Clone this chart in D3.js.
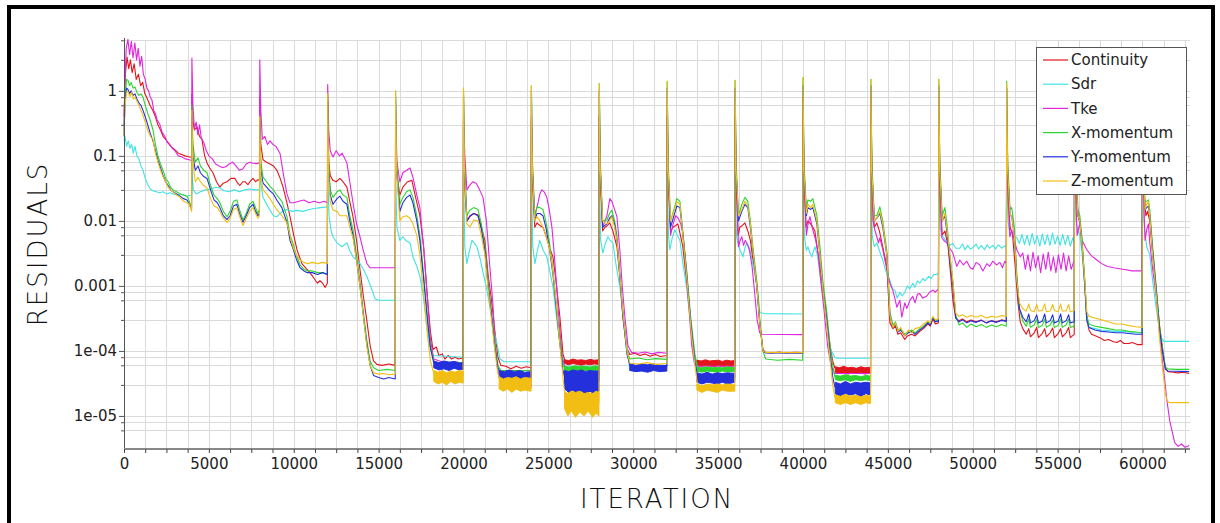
<!DOCTYPE html>
<html>
<head>
<meta charset="utf-8">
<script src="https://cdn.jsdelivr.net/npm/d3@7"></script>
<style>
  body { margin: 0; background: #fff; }
  svg { display: block; }
</style>
</head>
<body>
<svg id="chart" width="1220" height="523"></svg>
<script>
// residual history, [iteration, residual]
const continuity = [
  [0,0.4],[80,1.8],[180,3.3],[280,2.2],[380,3.0],[480,1.9],[600,2.6],[720,1.5],[850,1.8],[980,1.2],[1100,1.35],[1230,0.9],[1380,0.75],[1530,0.6],[1700,0.5],[1850,0.4],[2000,0.3],[2150,0.25],[2300,0.2],[2450,0.18],[2600,0.16],[2750,0.14],[2900,0.13],[3050,0.12],[3200,0.11],[3400,0.105],[3600,0.1],[3800,0.097],[3980,0.095],
  [4000,0.9],[4060,0.35],[4150,0.25],[4300,0.28],[4450,0.2],[4590,0.18],[4750,0.1],[4890,0.078],[5050,0.065],[5240,0.055],[5450,0.04],[5650,0.033],[5850,0.038],[6070,0.04],[6300,0.045],[6540,0.045],[6700,0.038],[6830,0.035],[7000,0.04],[7130,0.04],[7300,0.036],[7420,0.04],[7600,0.045],[7750,0.04],[7890,0.043],[7980,0.042],
  [8000,0.8],[8060,0.15],[8190,0.087],[8400,0.08],[8600,0.075],[8800,0.07],[9010,0.06],[9200,0.045],[9370,0.033],[9580,0.02],[9780,0.0116],[10000,0.006],[10190,0.0036],[10480,0.0022],[10700,0.0019],[10960,0.0016],[11200,0.0013],[11400,0.0011],[11540,0.0012],[11700,0.0011],[11850,0.00095],[11980,0.0011],
  [12000,0.5],[12060,0.08],[12150,0.05],[12310,0.042],[12500,0.04],[12720,0.045],[12900,0.04],[13130,0.033],[13300,0.02],[13490,0.0116],[13700,0.005],[13900,0.0018],[14100,7e-4],[14300,3e-4],[14500,1.2e-4],[14700,7e-5],[14900,6.2e-5],[15200,6e-5],[15600,6.3e-5],[15980,6e-5],
  [16000,0.3],[16080,0.05],[16250,0.025],[16430,0.033],[16700,0.04],[16960,0.042],[17150,0.025],[17430,0.012],[17650,0.004],[17850,8e-4],[18050,2e-4],[18200,1.05e-4],[18400,1.15e-4],[18550,8.5e-5],[18750,9e-5],[18900,7.5e-5],[19100,8.5e-5],[19300,7.5e-5],[19500,8e-5],[19700,7.5e-5],[19980,7.8e-5],
  [20000,0.3],[20080,0.03],[20200,0.01],[20380,0.0116],[20600,0.013],[20850,0.0124],[21050,0.008],[21260,0.005],[21450,0.0015],[21650,6e-4],[21850,2e-4],[22030,8e-5],[22200,6e-5],[22500,5.8e-5],[22800,5.3e-5],[23100,5.8e-5],[23400,5.4e-5],[23700,5.7e-5],[23980,5.5e-5],
  [24000,0.35],[24080,0.03],[24200,0.008],[24330,0.0093],[24500,0.0085],[24680,0.008],[24850,0.006],[25050,0.004],[25270,0.0028],[25450,0.0012],[25680,3.3e-4],[25860,9e-5],[26000,6.8e-5],[27980,6.8e-5],
  [28000,0.4],[28080,0.03],[28200,0.007],[28330,0.008],[28480,0.0085],[28620,0.0093],[28800,0.007],[29040,0.004],[29200,0.0015],[29390,3.3e-4],[29630,1.1e-4],[29800,8.8e-5],[30100,9.2e-5],[30400,8.5e-5],[30700,9e-5],[31000,8.3e-5],[31300,8.8e-5],[31600,8.2e-5],[31980,8.5e-5],
  [32000,0.4],[32080,0.03],[32200,0.007],[32340,0.008],[32500,0.0085],[32630,0.009],[32780,0.006],[32920,0.004],[33100,0.0015],[33340,3.9e-4],[33500,1.3e-4],[33630,7.5e-5],[33800,6.5e-5],[35980,6.5e-5],
  [36000,0.4],[36080,0.03],[36180,0.006],[36280,0.008],[36430,0.0085],[36580,0.0093],[36750,0.007],[36900,0.005],[37050,0.0025],[37280,0.001],[37460,2.5e-4],[37640,1.05e-4],[37800,9.5e-5],[38200,9.3e-5],[38600,9.6e-5],[39000,9.3e-5],[39500,9.5e-5],[39980,9.4e-5],
  [40000,0.45],[40080,0.03],[40180,0.008],[40290,0.01],[40450,0.009],[40580,0.008],[40700,0.007],[40900,0.003],[41170,9e-4],[41400,3e-4],[41580,1.3e-4],[41750,7e-5],[41880,5.5e-5],[43980,5e-5],
  [44000,0.4],[44080,0.03],[44200,0.008],[44350,0.0093],[44500,0.007],[44700,0.004],[44940,0.002],[45050,6e-4],[45120,2.7e-4],[45300,2.2e-4],[45450,2.4e-4],[45590,1.8e-4],[45750,1.9e-4],[46000,1.5e-4],[46150,1.7e-4],[46410,1.8e-4],[46600,1.7e-4],[46880,2e-4],[47100,2.2e-4],[47360,2.6e-4],[47500,2.4e-4],[47650,3.1e-4],[47800,2.6e-4],[47980,2.7e-4],
  [48000,0.4],[48080,0.03],[48200,0.006],[48360,0.007],[48550,0.004],[48700,0.0015],[48830,6e-4],[49000,3.2e-4],[49200,2.9e-4],[49400,3.1e-4],[49650,2.8e-4],[49900,3e-4],[50200,2.8e-4],[50500,3e-4],[50800,2.7e-4],[51100,2.9e-4],[51400,2.8e-4],[51700,3e-4],[51980,2.9e-4],
  [52000,0.35],[52060,0.03],[52200,0.008],[52350,0.006],[52500,0.002],[52650,6e-4],[52800,2.8e-4],[52950,2.2e-4],[53150,1.8e-4],[53300,2.2e-4],[53400,1.65e-4],[53620,1.9e-4],[53770,2.3e-4],[53870,1.6e-4],[54090,1.85e-4],[54240,2.2e-4],[54340,1.65e-4],[54560,1.9e-4],[54710,2.25e-4],[54810,1.6e-4],[55030,1.85e-4],[55180,2.2e-4],[55280,1.65e-4],[55500,1.9e-4],[55650,2.3e-4],[55750,1.6e-4],[55980,1.8e-4],
  [56000,0.3],[56080,0.03],[56200,0.012],[56310,0.0093],[56450,0.004],[56600,0.0012],[56720,3e-4],[56850,2.1e-4],[57000,1.8e-4],[57250,1.7e-4],[57490,1.6e-4],[57750,1.45e-4],[58000,1.5e-4],[58250,1.4e-4],[58500,1.35e-4],[58700,1.45e-4],[58900,1.3e-4],[59200,1.3e-4],[59400,1.35e-4],[59700,1.25e-4],[59980,1.25e-4],
  [60000,0.4],[60080,0.03],[60200,0.012],[60300,0.014],[60430,0.01],[60600,0.003],[60840,7e-4],[61000,2.5e-4],[61200,1e-4],[61350,5.5e-5],[61500,4.8e-5],[61800,4.7e-5],[62100,4.6e-5],[62400,4.7e-5],[62750,4.5e-5]
];

const sdr = [
  [0,0.17],[60,0.2],[150,0.14],[250,0.17],[350,0.13],[450,0.15],[550,0.11],[650,0.14],[760,0.1],[880,0.09],[1000,0.07],[1120,0.06],[1250,0.045],[1400,0.036],[1550,0.031],[1700,0.029],[1900,0.028],[2100,0.027],[2300,0.028],[2500,0.026],[2700,0.027],[2900,0.026],[3100,0.025],[3300,0.026],[3500,0.025],[3700,0.024],[3980,0.025],
  [4000,0.06],[4080,0.03],[4250,0.026],[4500,0.028],[4800,0.03],[5100,0.031],[5400,0.033],[5650,0.032],[5900,0.029],[6200,0.028],[6500,0.03],[6800,0.028],[7100,0.03],[7400,0.031],[7700,0.03],[7980,0.03],
  [8000,0.07],[8080,0.035],[8190,0.023],[8400,0.018],[8600,0.0147],[8800,0.012],[9010,0.0116],[9200,0.013],[9400,0.0145],[9600,0.015],[9900,0.014],[10200,0.0145],[10540,0.014],[10900,0.015],[11200,0.0155],[11600,0.016],[11980,0.0164],
  [12000,0.05],[12080,0.012],[12200,0.007],[12310,0.0057],[12550,0.0046],[12840,0.004],[13130,0.0046],[13300,0.0035],[13490,0.0028],[13700,0.0025],[13900,0.0022],[14100,0.0018],[14310,0.0014],[14610,8.6e-4],[14800,6.3e-4],[15000,6e-4],[15500,6e-4],[15980,6e-4],
  [16000,0.05],[16080,0.008],[16250,0.005],[16430,0.0057],[16600,0.005],[16850,0.0046],[17020,0.0028],[17250,0.002],[17430,0.0014],[17600,8e-4],[17800,3e-4],[18000,1.2e-4],[18200,8.5e-5],[19980,8e-5],
  [20000,0.05],[20080,0.004],[20200,0.0022],[20350,0.0035],[20500,0.005],[20650,0.0045],[20790,0.004],[21000,0.0025],[21200,0.0014],[21380,8.6e-4],[21600,4e-4],[21800,2e-4],[21970,1.3e-4],[22150,7.5e-5],[22400,6.8e-5],[23980,6.8e-5],
  [24000,0.05],[24080,0.004],[24210,0.0022],[24350,0.0035],[24500,0.005],[24700,0.0035],[24910,0.0028],[25100,0.0016],[25270,9.7e-4],[25500,3e-4],[25680,1.3e-4],[25860,6.5e-5],[26000,5.8e-5],[27980,5.8e-5],
  [28000,0.05],[28080,0.005],[28210,0.0032],[28350,0.0045],[28510,0.0057],[28650,0.005],[28800,0.0046],[29000,0.002],[29210,9.7e-4],[29420,3.5e-4],[29630,1.3e-4],[29800,5e-5],[30200,5.3e-5],[30800,5.6e-5],[31400,5.9e-5],[31980,6e-5],
  [32000,0.05],[32080,0.006],[32160,0.0036],[32300,0.0055],[32450,0.0073],[32600,0.006],[32750,0.005],[32950,0.002],[33160,9e-4],[33350,3e-4],[33510,1.2e-4],[33750,5.5e-5],[34000,5.1e-5],[35980,5.1e-5],
  [36000,0.05],[36080,0.006],[36160,0.0046],[36300,0.0035],[36460,0.0028],[36600,0.004],[36700,0.0046],[36850,0.0038],[37050,0.0022],[37280,0.0011],[37460,3.9e-4],[37700,3.75e-4],[39980,3.7e-4],
  [40000,0.05],[40080,0.006],[40200,0.0035],[40290,0.004],[40420,0.0032],[40520,0.0028],[40700,0.004],[40850,0.003],[41000,0.0015],[41170,7e-4],[41380,3e-4],[41580,1.1e-4],[41880,8e-5],[42000,7.7e-5],[43980,7.7e-5],
  [44000,0.05],[44080,0.006],[44200,0.004],[44350,0.0046],[44500,0.0035],[44700,0.0025],[44940,0.0015],[45120,0.0012],[45290,9e-4],[45410,8.6e-4],[45550,6.5e-4],[45710,8e-4],[45850,7e-4],[46000,8e-4],[46150,0.001],[46300,9e-4],[46470,0.0011],[46590,0.00095],[46750,0.0012],[46880,0.0011],[47060,0.0013],[47200,0.0012],[47400,0.0014],[47550,0.0013],[47700,0.0015],[47890,0.0015],[47980,0.0016],
  [48000,0.06],[48080,0.008],[48180,0.006],[48300,0.0055],[48470,0.0047],[48650,0.0042],[48830,0.0045],[49000,0.0038],[49240,0.0038],[49400,0.0044],[49550,0.0036],[49700,0.0042],[49850,0.0037],[50010,0.0039],[50200,0.0044],[50350,0.0037],[50500,0.0042],[50700,0.0036],[50850,0.0043],[51000,0.0038],[51180,0.0042],[51350,0.0037],[51500,0.0043],[51700,0.0038],[51890,0.0041],[51980,0.004],
  [52000,0.06],[52080,0.01],[52190,0.006],[52300,0.0067],[52450,0.0058],[52600,0.0055],[52750,0.0045],[52900,0.0062],[53050,0.0043],[53200,0.006],[53350,0.0042],[53500,0.0064],[53650,0.0044],[53800,0.0059],[53950,0.0041],[54100,0.0063],[54250,0.0043],[54400,0.0061],[54550,0.0042],[54700,0.0065],[54850,0.0044],[55000,0.0058],[55150,0.0042],[55300,0.0062],[55450,0.0043],[55600,0.006],[55750,0.0041],[55900,0.0055],[55980,0.0045],
  [56000,0.06],[56080,0.01],[56200,0.007],[56310,0.006],[56450,0.003],[56600,0.001],[56720,3e-4],[56850,2.3e-4],[57200,2.2e-4],[57600,2.1e-4],[58000,2.05e-4],[58400,2e-4],[58800,2e-4],[59200,1.95e-4],[59600,1.9e-4],[59980,1.9e-4],
  [60000,0.06],[60080,0.01],[60250,0.004],[60430,0.003],[60600,0.0012],[60840,4e-4],[61050,1.7e-4],[61250,1.4e-4],[62750,1.4e-4]
];

const tke = [
  [0,0.3],[60,1.5],[130,4.5],[230,6.2],[330,3.6],[430,5.8],[530,3.2],[640,5.5],[740,3.0],[840,4.5],[940,2.4],[1040,3.4],[1140,1.8],[1250,1.5],[1350,1.1],[1450,1.0],[1550,0.8],[1650,0.72],[1750,0.5],[1850,0.45],[1950,0.36],[2100,0.31],[2250,0.23],[2400,0.2],[2550,0.16],[2700,0.15],[2850,0.13],[3000,0.12],[3200,0.1],[3400,0.097],[3600,0.09],[3800,0.088],[3980,0.085],
  [4000,3.2],[4060,0.6],[4150,0.26],[4250,0.33],[4350,0.21],[4450,0.3],[4550,0.19],[4700,0.16],[4850,0.12],[5000,0.1],[5200,0.09],[5400,0.075],[5600,0.07],[5800,0.066],[6000,0.068],[6200,0.075],[6400,0.08],[6600,0.07],[6800,0.06],[7000,0.063],[7200,0.075],[7400,0.08],[7600,0.077],[7800,0.076],[7980,0.078],
  [8000,3.0],[8060,0.5],[8150,0.18],[8300,0.2],[8450,0.15],[8600,0.17],[8770,0.15],[8950,0.14],[9190,0.11],[9400,0.05],[9600,0.026],[9780,0.019],[10000,0.019],[10300,0.02],[10600,0.021],[10900,0.019],[11200,0.02],[11500,0.019],[11800,0.02],[11980,0.019],
  [12000,1.25],[12060,0.25],[12150,0.12],[12310,0.096],[12500,0.12],[12700,0.1],[12850,0.11],[13130,0.078],[13300,0.04],[13490,0.019],[13700,0.009],[13900,0.0057],[14100,0.0035],[14310,0.0022],[14500,0.0019],[15000,0.0019],[15500,0.0019],[15980,0.0019],
  [16000,0.5],[16080,0.08],[16250,0.04],[16430,0.055],[16650,0.06],[16850,0.065],[17020,0.047],[17250,0.025],[17430,0.016],[17650,0.004],[17850,8e-4],[18050,1.5e-4],[18250,7.5e-5],[18600,7e-5],[19000,6.5e-5],[19500,6.8e-5],[19980,6.5e-5],
  [20000,0.4],[20080,0.1],[20200,0.03],[20350,0.035],[20550,0.04],[20750,0.038],[20950,0.03],[21150,0.023],[21350,0.01],[21550,0.002],[21730,5.4e-4],[21850,1.5e-4],[21970,6e-5],[22100,4e-5],[22300,3.2e-5],[22600,2.8e-5],[22900,2.6e-5],[23200,2.9e-5],[23500,2.6e-5],[23800,2.8e-5],[23980,2.7e-5],
  [24000,0.4],[24080,0.05],[24200,0.012],[24330,0.016],[24500,0.026],[24620,0.03],[24750,0.028],[24910,0.023],[25050,0.015],[25210,0.008],[25350,0.003],[25500,8.6e-4],[25650,2.5e-4],[25800,9e-5],[26000,5e-5],[26500,4.5e-5],[27000,4.2e-5],[27500,4.4e-5],[27980,4.3e-5],
  [28000,0.4],[28080,0.05],[28200,0.008],[28450,0.012],[28620,0.022],[28740,0.02],[28900,0.015],[29040,0.0116],[29210,0.0036],[29350,0.001],[29510,3.3e-4],[29690,1.2e-4],[29900,9.5e-5],[30300,9.2e-5],[30700,9.6e-5],[31100,9e-5],[31500,9.5e-5],[31980,9.2e-5],
  [32000,0.4],[32080,0.04],[32200,0.006],[32350,0.009],[32500,0.012],[32650,0.011],[32800,0.009],[32920,0.0065],[33050,0.003],[33160,0.0011],[33300,4e-4],[33450,1.2e-4],[33600,6.5e-5],[33800,5.8e-5],[35980,5.8e-5],
  [36000,0.4],[36080,0.04],[36200,0.004],[36300,0.005],[36400,0.0057],[36500,0.0042],[36600,0.005],[36700,0.0045],[36850,0.0035],[37000,0.002],[37150,8e-4],[37300,3e-4],[37450,1.9e-4],[37600,1.8e-4],[39980,1.78e-4],
  [40000,0.4],[40080,0.04],[40200,0.006],[40300,0.009],[40410,0.0116],[40580,0.0073],[40750,0.005],[40900,0.003],[41050,0.0012],[41250,4e-4],[41450,1.2e-4],[41650,6e-5],[41850,4.5e-5],[43980,4.5e-5],
  [44000,0.4],[44060,0.04],[44120,0.0103],[44230,0.0073],[44350,0.0057],[44450,0.0046],[44530,0.0055],[44700,0.0036],[44940,0.0018],[45120,0.0011],[45290,8.6e-4],[45410,6.5e-4],[45530,4.7e-4],[45710,6e-4],[45820,3.3e-4],[46000,5.5e-4],[46120,4.5e-4],[46300,6e-4],[46470,6.9e-4],[46600,5.5e-4],[46750,7.5e-4],[46880,7.6e-4],[47060,6.5e-4],[47300,7e-4],[47450,8e-4],[47650,8.6e-4],[47800,8e-4],[47980,9e-4],
  [48000,0.4],[48060,0.03],[48180,0.0055],[48300,0.005],[48470,0.0046],[48650,0.0038],[48830,0.0032],[49060,0.002],[49240,0.0025],[49450,0.0021],[49650,0.0024],[49850,0.0019],[50010,0.0018],[50200,0.0023],[50420,0.0021],[50600,0.0017],[50830,0.0022],[51000,0.002],[51180,0.0024],[51400,0.0021],[51600,0.0023],[51750,0.0019],[51890,0.0024],[51980,0.0022],
  [52000,0.4],[52060,0.03],[52190,0.0057],[52300,0.0073],[52450,0.005],[52600,0.0036],[52800,0.0028],[52950,0.0032],[53100,0.0018],[53250,0.003],[53400,0.0017],[53550,0.0033],[53700,0.0019],[53850,0.0029],[54000,0.0016],[54150,0.0031],[54300,0.0018],[54450,0.0033],[54600,0.0017],[54750,0.0028],[54900,0.0016],[55050,0.003],[55200,0.0018],[55350,0.0032],[55500,0.0017],[55650,0.0029],[55800,0.0018],[55980,0.0025],
  [56000,0.4],[56060,0.03],[56150,0.006],[56310,0.0093],[56450,0.005],[56720,0.0036],[57000,0.0029],[57310,0.0025],[57600,0.0022],[57900,0.002],[58300,0.0019],[58840,0.0018],[59400,0.0017],[59960,0.0017],
  [60000,0.4],[60060,0.03],[60150,0.005],[60250,0.0073],[60350,0.009],[60430,0.0046],[60600,0.0018],[60840,6e-4],[61000,2e-4],[61200,6e-5],[61310,3.6e-5],[61430,1.8e-5],[61620,8e-6],[61900,3.9e-6],[62100,3.4e-6],[62300,3.7e-6],[62500,3.3e-6],[62750,3.5e-6]
];

const xMomentum = [
  [0,0.25],[60,0.8],[150,1.5],[236,1.45],[330,1.2],[420,1.35],[530,1.1],[648,1.15],[760,0.95],[880,0.85],[1000,0.9],[1119,0.8],[1250,0.6],[1400,0.45],[1550,0.35],[1708,0.25],[1850,0.15],[2000,0.1],[2150,0.075],[2297,0.06],[2450,0.045],[2600,0.04],[2750,0.033],[2886,0.03],[3100,0.028],[3300,0.026],[3500,0.025],[3711,0.024],[3850,0.02],[3980,0.016],
  [4000,0.6],[4060,0.15],[4200,0.08],[4360,0.093],[4500,0.07],[4700,0.06],[4890,0.055],[5100,0.035],[5300,0.025],[5500,0.022],[5650,0.019],[5850,0.014],[6070,0.0116],[6250,0.014],[6450,0.02],[6650,0.021],[6800,0.015],[7010,0.0103],[7200,0.013],[7400,0.018],[7600,0.02],[7750,0.016],[7890,0.013],[7980,0.015],
  [8000,0.4],[8060,0.08],[8190,0.047],[8400,0.04],[8600,0.034],[8800,0.03],[9000,0.025],[9300,0.02],[9600,0.0116],[9780,0.006],[9950,0.0046],[10150,0.003],[10370,0.0021],[10600,0.0018],[10780,0.0017],[11100,0.0017],[11400,0.0016],[11700,0.0016],[11980,0.0015],
  [12000,0.9],[12060,0.08],[12150,0.03],[12310,0.023],[12550,0.028],[12720,0.03],[12900,0.025],[13130,0.023],[13300,0.012],[13490,0.0073],[13700,0.003],[13900,0.0012],[14100,4e-4],[14300,1.5e-4],[14500,7e-5],[14700,5.5e-5],[15000,5e-5],[15500,5.2e-5],[15980,5e-5],
  [16000,1.0],[16060,0.08],[16250,0.018],[16430,0.023],[16650,0.028],[16850,0.03],[17020,0.023],[17250,0.012],[17430,0.006],[17650,0.0015],[17850,4e-4],[18050,1.2e-4],[18250,7e-5],[18500,6.5e-5],[19000,6.8e-5],[19500,6.5e-5],[19980,6.7e-5],
  [20000,1.1],[20060,0.08],[20200,0.012],[20380,0.0147],[20600,0.016],[20850,0.015],[21050,0.009],[21260,0.004],[21450,0.0012],[21650,4e-4],[21850,1.3e-4],[22030,6e-5],[22200,5e-5],[23980,5e-5],
  [24000,1.2],[24060,0.08],[24200,0.012],[24330,0.0164],[24500,0.016],[24680,0.015],[24850,0.01],[25050,0.005],[25270,0.0018],[25450,6e-4],[25650,1.8e-4],[25860,6e-5],[26000,5.3e-5],[27980,5.3e-5],
  [28000,1.3],[28060,0.08],[28200,0.01],[28450,0.0103],[28600,0.013],[28740,0.0147],[28900,0.01],[29040,0.006],[29200,0.0018],[29390,4e-4],[29630,1e-4],[29800,7.5e-5],[30300,7.8e-5],[30800,7.3e-5],[31300,7.6e-5],[31980,7.4e-5],
  [32000,1.4],[32060,0.08],[32200,0.01],[32400,0.015],[32570,0.022],[32750,0.02],[32900,0.008],[33160,0.0016],[33400,3e-4],[33630,9e-5],[33800,5.3e-5],[35980,5.3e-5],
  [36000,1.45],[36060,0.08],[36200,0.012],[36400,0.018],[36580,0.023],[36750,0.02],[36900,0.01],[37050,0.004],[37280,0.0012],[37460,3e-4],[37640,1e-4],[37800,7.5e-5],[38500,7.2e-5],[39200,7.4e-5],[39980,7.2e-5],
  [40000,1.6],[40060,0.08],[40200,0.015],[40290,0.021],[40450,0.02],[40580,0.022],[40820,0.012],[41000,0.004],[41170,0.0012],[41400,4e-4],[41580,1.3e-4],[41750,6e-5],[41880,4e-5],[43980,3.9e-5],
  [44000,1.5],[44060,0.08],[44200,0.012],[44350,0.012],[44530,0.0164],[44700,0.01],[44940,0.0035],[45050,0.001],[45120,4e-4],[45300,2.5e-4],[45450,2.8e-4],[45590,2.1e-4],[45750,2.2e-4],[46000,1.8e-4],[46200,2e-4],[46410,2.1e-4],[46600,1.9e-4],[46880,2.2e-4],[47100,2.4e-4],[47360,2.8e-4],[47500,2.6e-4],[47650,3.3e-4],[47800,2.9e-4],[47980,3e-4],
  [48000,1.5],[48060,0.08],[48200,0.012],[48360,0.016],[48500,0.008],[48650,0.003],[48830,0.0012],[49000,3.5e-4],[49200,2.5e-4],[49400,2.7e-4],[49650,2.3e-4],[49900,2.6e-4],[50200,2.35e-4],[50500,2.55e-4],[50800,2.3e-4],[51100,2.5e-4],[51400,2.35e-4],[51700,2.55e-4],[51980,2.4e-4],
  [52000,1.4],[52060,0.08],[52200,0.015],[52300,0.016],[52450,0.008],[52600,0.0015],[52750,4.5e-4],[52950,2.9e-4],[53150,2.4e-4],[53300,3.1e-4],[53400,2.3e-4],[53620,2.5e-4],[53770,3.1e-4],[53870,2.3e-4],[54090,2.45e-4],[54240,3.1e-4],[54340,2.3e-4],[54560,2.5e-4],[54710,3e-4],[54810,2.3e-4],[55030,2.45e-4],[55180,3.1e-4],[55280,2.3e-4],[55500,2.5e-4],[55650,3.1e-4],[55750,2.3e-4],[55980,2.4e-4],
  [56000,1.4],[56060,0.08],[56200,0.015],[56310,0.012],[56450,0.005],[56600,0.0012],[56720,3.5e-4],[56850,2.6e-4],[57200,2.4e-4],[57600,2.3e-4],[58000,2.2e-4],[58400,2.1e-4],[58800,2.1e-4],[59200,2e-4],[59600,1.95e-4],[59980,1.9e-4],
  [60000,1.5],[60060,0.08],[60150,0.02],[60250,0.02],[60350,0.021],[60430,0.015],[60600,0.004],[60840,8e-4],[61000,2.5e-4],[61200,1e-4],[61350,5.6e-5],[61500,5.3e-5],[62000,5.2e-5],[62750,5.2e-5]
];

const yMomentum = [
  [0,0.2],[60,0.7],[150,1.1],[236,1.05],[330,0.9],[420,1.0],[530,0.85],[648,0.9],[760,0.75],[880,0.65],[1000,0.6],[1119,0.5],[1250,0.4],[1400,0.3],[1550,0.22],[1708,0.17],[1850,0.12],[2000,0.085],[2150,0.065],[2297,0.05],[2450,0.04],[2600,0.035],[2750,0.03],[2886,0.028],[3100,0.026],[3300,0.024],[3500,0.022],[3711,0.021],[3850,0.018],[3980,0.015],
  [4000,0.4],[4060,0.1],[4200,0.06],[4360,0.07],[4500,0.055],[4700,0.048],[4890,0.045],[5100,0.03],[5300,0.021],[5500,0.019],[5650,0.016],[5850,0.012],[6070,0.0105],[6250,0.012],[6450,0.017],[6650,0.018],[6800,0.013],[7010,0.0095],[7200,0.012],[7400,0.016],[7600,0.018],[7750,0.014],[7890,0.012],[7980,0.013],
  [8000,0.3],[8060,0.06],[8190,0.038],[8400,0.033],[8600,0.029],[8800,0.026],[9000,0.021],[9300,0.016],[9600,0.0095],[9780,0.005],[9950,0.0038],[10150,0.0026],[10370,0.0019],[10600,0.0017],[10780,0.0016],[11100,0.0016],[11400,0.0015],[11700,0.0016],[11980,0.0015],
  [12000,0.7],[12060,0.06],[12150,0.025],[12310,0.018],[12550,0.022],[12720,0.024],[12900,0.02],[13130,0.018],[13300,0.01],[13490,0.006],[13700,0.0025],[13900,0.001],[14100,3.5e-4],[14300,1.3e-4],[14500,6e-5],[14700,4.2e-5],[15000,3.9e-5],[15300,3.7e-5],[15600,3.9e-5],[15980,3.7e-5],
  [16000,0.8],[16060,0.06],[16250,0.014],[16430,0.019],[16650,0.023],[16850,0.025],[17020,0.019],[17250,0.01],[17430,0.005],[17650,0.0013],[17850,3.5e-4],[18050,1.1e-4],[18250,6.5e-5],[19980,6e-5],
  [20000,0.9],[20060,0.06],[20200,0.01],[20380,0.012],[20600,0.013],[20850,0.012],[21050,0.0075],[21260,0.0035],[21450,0.001],[21650,3.5e-4],[21850,1.1e-4],[22030,5.5e-5],[22200,4.5e-5],[23980,4.3e-5],
  [24000,1.0],[24060,0.06],[24200,0.01],[24330,0.013],[24500,0.013],[24680,0.012],[24850,0.008],[25050,0.004],[25270,0.0015],[25450,5e-4],[25650,1.5e-4],[25860,5e-5],[26000,3.5e-5],[27980,3.5e-5],
  [28000,1.0],[28060,0.06],[28200,0.008],[28450,0.009],[28600,0.011],[28740,0.012],[28900,0.009],[29040,0.005],[29200,0.0015],[29390,3.5e-4],[29630,9e-5],[29800,6e-5],[31980,5.8e-5],
  [32000,1.1],[32060,0.06],[32200,0.008],[32400,0.012],[32570,0.017],[32750,0.016],[32900,0.007],[33160,0.0014],[33400,2.5e-4],[33630,7e-5],[33800,4e-5],[35980,3.9e-5],
  [36000,1.1],[36060,0.06],[36200,0.01],[36400,0.014],[36580,0.018],[36750,0.016],[36900,0.008],[37050,0.0033],[37280,0.001],[37460,2.6e-4],[37640,1e-4],[37800,9.3e-5],[39980,9.2e-5],
  [40000,1.2],[40060,0.06],[40200,0.012],[40290,0.016],[40450,0.015],[40580,0.016],[40820,0.009],[41000,0.003],[41170,9e-4],[41400,3e-4],[41580,1e-4],[41750,4e-5],[41880,2.8e-5],[43980,2.7e-5],
  [44000,1.2],[44060,0.06],[44200,0.01],[44350,0.011],[44530,0.013],[44700,0.008],[44940,0.003],[45050,8e-4],[45120,3.5e-4],[45300,2.3e-4],[45450,2.6e-4],[45590,1.95e-4],[45750,2.1e-4],[46000,1.7e-4],[46200,1.9e-4],[46410,2e-4],[46600,1.8e-4],[46880,2.1e-4],[47100,2.3e-4],[47360,2.7e-4],[47500,2.5e-4],[47650,3.2e-4],[47800,2.8e-4],[47980,2.9e-4],
  [48000,1.2],[48060,0.06],[48200,0.01],[48360,0.012],[48500,0.006],[48650,0.0025],[48830,0.001],[49000,3.2e-4],[49200,2.8e-4],[49400,3e-4],[49650,2.7e-4],[49900,2.9e-4],[50200,2.75e-4],[50500,2.95e-4],[50800,2.7e-4],[51100,2.9e-4],[51400,2.75e-4],[51700,2.95e-4],[51980,2.85e-4],
  [52000,1.1],[52060,0.06],[52200,0.012],[52300,0.012],[52450,0.006],[52600,0.0012],[52750,4.5e-4],[52950,3.3e-4],[53150,2.8e-4],[53300,3.7e-4],[53400,2.7e-4],[53620,2.9e-4],[53770,3.6e-4],[53870,2.7e-4],[54090,2.85e-4],[54240,3.7e-4],[54340,2.7e-4],[54560,2.9e-4],[54710,3.6e-4],[54810,2.7e-4],[55030,2.85e-4],[55180,3.7e-4],[55280,2.7e-4],[55500,2.9e-4],[55650,3.6e-4],[55750,2.7e-4],[55980,2.8e-4],
  [56000,1.1],[56060,0.06],[56200,0.012],[56310,0.01],[56450,0.004],[56600,0.001],[56720,3e-4],[56850,2.3e-4],[57200,2.1e-4],[57600,2e-4],[58000,1.95e-4],[58400,1.9e-4],[58800,1.9e-4],[59200,1.85e-4],[59600,1.8e-4],[59980,1.8e-4],
  [60000,1.2],[60060,0.06],[60150,0.015],[60250,0.016],[60350,0.017],[60430,0.012],[60600,0.0035],[60840,7e-4],[61000,2.2e-4],[61200,9e-5],[61350,5.2e-5],[61500,4.9e-5],[62750,4.8e-5]
];

const zMomentum = [
  [0,0.2],[60,0.6],[150,0.95],[236,0.97],[350,0.82],[450,0.95],[550,0.75],[648,0.8],[760,0.7],[880,0.6],[1000,0.5],[1119,0.42],[1250,0.33],[1400,0.25],[1550,0.2],[1708,0.18],[1850,0.11],[2000,0.08],[2150,0.06],[2297,0.048],[2450,0.04],[2600,0.033],[2750,0.03],[2886,0.028],[3100,0.025],[3300,0.023],[3500,0.02],[3711,0.019],[3850,0.018],[3980,0.014],
  [4000,0.5],[4060,0.08],[4200,0.04],[4360,0.047],[4500,0.04],[4700,0.035],[4890,0.032],[5100,0.022],[5300,0.017],[5500,0.016],[5650,0.014],[5850,0.011],[6070,0.0095],[6250,0.011],[6450,0.015],[6650,0.016],[6800,0.012],[7010,0.0085],[7200,0.011],[7400,0.014],[7600,0.016],[7750,0.013],[7890,0.011],[7980,0.012],
  [8000,0.4],[8060,0.05],[8190,0.03],[8400,0.026],[8600,0.022],[8800,0.018],[9000,0.015],[9300,0.012],[9600,0.0093],[9780,0.006],[9950,0.004],[10150,0.003],[10370,0.0025],[10600,0.0023],[10800,0.0022],[11100,0.0023],[11400,0.0022],[11700,0.0023],[11980,0.0022],
  [12000,0.9],[12060,0.05],[12150,0.02],[12310,0.0147],[12550,0.014],[12720,0.012],[12900,0.012],[13130,0.012],[13300,0.008],[13490,0.0055],[13700,0.0025],[13900,0.001],[14100,3.5e-4],[14300,1.2e-4],[14500,6e-5],[14700,4.6e-5],[15000,4.4e-5],[15300,4.5e-5],[15600,4.3e-5],[15980,4.4e-5],
  [16000,1.0],[16060,0.06],[16250,0.01],[16430,0.0116],[16650,0.012],[16850,0.011],[17020,0.009],[17250,0.006],[17430,0.003],[17650,8e-4],[17850,2e-4],[18050,7e-5],[18250,4.5e-5],[19980,4.2e-5],
  [20000,1.1],[20060,0.06],[20200,0.009],[20380,0.008],[20600,0.0103],[20850,0.01],[21050,0.006],[21260,0.003],[21450,9e-4],[21650,3e-4],[21850,1e-4],[22030,4.5e-5],[22200,3.3e-5],[23980,3.1e-5],
  [24000,1.2],[24060,0.06],[24200,0.01],[24330,0.0116],[24500,0.01],[24680,0.008],[24850,0.006],[25050,0.004],[25210,0.0022],[25450,6e-4],[25650,1.5e-4],[25860,4e-5],[26000,1.8e-5],[27980,1.6e-5],
  [28000,1.3],[28060,0.06],[28200,0.01],[28450,0.009],[28600,0.01],[28740,0.0116],[28900,0.008],[29040,0.005],[29200,0.0016],[29390,4e-4],[29630,1e-4],[29800,6.5e-5],[30300,6.3e-5],[30800,6.6e-5],[31300,6.2e-5],[31980,6.4e-5],
  [32000,1.4],[32060,0.06],[32200,0.01],[32400,0.014],[32570,0.02],[32750,0.018],[32900,0.007],[33160,0.0013],[33400,2.2e-4],[33630,6e-5],[33800,2.9e-5],[35980,2.8e-5],
  [36000,1.45],[36060,0.06],[36200,0.012],[36400,0.015],[36580,0.02],[36750,0.017],[36900,0.009],[37050,0.0035],[37280,0.001],[37460,2.6e-4],[37640,1e-4],[37800,9.5e-5],[39980,9.4e-5],
  [40000,1.6],[40060,0.06],[40200,0.013],[40290,0.018],[40450,0.016],[40580,0.018],[40820,0.01],[41000,0.003],[41170,9e-4],[41400,2.5e-4],[41580,8e-5],[41750,3e-5],[41880,1.9e-5],[43980,1.8e-5],
  [44000,1.5],[44060,0.06],[44200,0.01],[44350,0.011],[44530,0.014],[44700,0.009],[44940,0.003],[45050,9e-4],[45120,3.5e-4],[45300,2.3e-4],[45450,2.7e-4],[45590,2e-4],[45750,2.3e-4],[46000,1.7e-4],[46200,2.1e-4],[46410,1.9e-4],[46600,2.2e-4],[46880,2.3e-4],[47100,2.6e-4],[47360,2.9e-4],[47500,2.7e-4],[47650,3.4e-4],[47800,3e-4],[47980,3.1e-4],
  [48000,1.5],[48060,0.06],[48200,0.01],[48360,0.013],[48500,0.007],[48650,0.003],[48830,0.0012],[49000,3.8e-4],[49200,3.4e-4],[49400,3.6e-4],[49650,3.3e-4],[49900,3.5e-4],[50200,3.3e-4],[50500,3.5e-4],[50800,3.2e-4],[51100,3.4e-4],[51400,3.3e-4],[51700,3.5e-4],[51980,3.4e-4],
  [52000,1.3],[52060,0.06],[52200,0.012],[52300,0.012],[52450,0.006],[52600,0.0012],[52750,5.5e-4],[52950,4.5e-4],[53150,4.1e-4],[53300,5.3e-4],[53400,4.2e-4],[53620,4e-4],[53770,5.2e-4],[53870,4.1e-4],[54090,4.2e-4],[54240,5.3e-4],[54340,4e-4],[54560,4.1e-4],[54710,5.2e-4],[54810,4.2e-4],[55030,4e-4],[55180,5.3e-4],[55280,4.1e-4],[55500,4.1e-4],[55650,5.2e-4],[55750,4e-4],[55980,4.2e-4],
  [56000,1.3],[56060,0.06],[56200,0.012],[56310,0.01],[56450,0.004],[56600,0.0012],[56720,4e-4],[56850,3.4e-4],[57200,3.2e-4],[57600,3e-4],[58000,2.8e-4],[58400,2.6e-4],[58800,2.6e-4],[59200,2.45e-4],[59600,2.35e-4],[59980,2.3e-4],
  [60000,1.5],[60060,0.06],[60150,0.015],[60250,0.018],[60350,0.02],[60430,0.012],[60600,0.003],[60840,6e-4],[61000,1.6e-4],[61200,5e-5],[61350,2.2e-5],[61450,1.7e-5],[61600,1.6e-5],[62750,1.6e-5]
];

// dense oscillation on the plateaus, [iteration, low, high]
const continuityBands = [
  [[25950,6.4e-5,7.3e-5],[26200,6.1e-5,7.1e-5],[26450,6.4e-5,7.5e-5],[26700,6.2e-5,7.2e-5],[26950,6e-5,7.3e-5],[27200,6.3e-5,7.1e-5],[27450,6.1e-5,7.4e-5],[27700,6.3e-5,7.2e-5],[27980,6.2e-5,7.3e-5]],
  [[33750,6.1e-5,7.2e-5],[34000,5.8e-5,7e-5],[34250,6e-5,7.3e-5],[34500,5.9e-5,7e-5],[34750,5.7e-5,7.1e-5],[35000,6e-5,7.2e-5],[35250,5.8e-5,6.9e-5],[35500,5.9e-5,7.2e-5],[35750,5.8e-5,7e-5],[35980,6e-5,7.1e-5]],
  [[41900,4.7e-5,5.7e-5],[42150,4.5e-5,5.5e-5],[42400,4.6e-5,5.8e-5],[42650,4.4e-5,5.5e-5],[42900,4.6e-5,5.6e-5],[43150,4.5e-5,5.4e-5],[43400,4.6e-5,5.7e-5],[43650,4.4e-5,5.5e-5],[43980,4.6e-5,5.6e-5]]
];
const xMomentumBands = [
  [[25950,5.1e-5,5.8e-5],[26250,4.9e-5,5.6e-5],[26550,5e-5,5.9e-5],[26850,4.8e-5,5.7e-5],[27150,5e-5,5.8e-5],[27450,4.9e-5,5.6e-5],[27750,5e-5,5.9e-5],[27980,4.9e-5,5.7e-5]],
  [[33750,4.9e-5,5.6e-5],[34050,4.7e-5,5.5e-5],[34350,4.9e-5,5.7e-5],[34650,4.8e-5,5.5e-5],[34950,4.7e-5,5.6e-5],[35250,4.9e-5,5.5e-5],[35550,4.8e-5,5.7e-5],[35980,4.8e-5,5.5e-5]],
  [[41900,3.6e-5,4.2e-5],[42200,3.5e-5,4.1e-5],[42500,3.6e-5,4.3e-5],[42800,3.4e-5,4.1e-5],[43100,3.6e-5,4.2e-5],[43400,3.5e-5,4e-5],[43700,3.6e-5,4.2e-5],[43980,3.5e-5,4.1e-5]]
];
const yMomentumBands = [
  [[18250,5.5e-5,7e-5],[18550,5.1e-5,6.6e-5],[18850,5.3e-5,7e-5],[19150,5e-5,6.7e-5],[19450,5.4e-5,6.9e-5],[19750,5.1e-5,6.5e-5],[19980,5.2e-5,6.6e-5]],
  [[22100,3.8e-5,5e-5],[22400,3.6e-5,4.8e-5],[22700,3.8e-5,5.1e-5],[23000,3.5e-5,4.8e-5],[23300,3.8e-5,5e-5],[23600,3.6e-5,4.7e-5],[23980,3.7e-5,4.8e-5]],
  [[25950,2.6e-5,5e-5],[26200,2.3e-5,4.8e-5],[26450,2.5e-5,5.1e-5],[26700,2.2e-5,4.9e-5],[26950,2.4e-5,5.1e-5],[27200,2.2e-5,4.8e-5],[27450,2.4e-5,5e-5],[27700,2.2e-5,4.9e-5],[27980,2.4e-5,4.9e-5]],
  [[29800,5e-5,6.3e-5],[30150,4.8e-5,6e-5],[30500,4.9e-5,6.3e-5],[30850,4.7e-5,6.1e-5],[31200,5e-5,6.3e-5],[31550,4.8e-5,6e-5],[31980,4.9e-5,6e-5]],
  [[33750,3.3e-5,4.6e-5],[34050,3.1e-5,4.4e-5],[34350,3.3e-5,4.7e-5],[34650,3.2e-5,4.4e-5],[34950,3.1e-5,4.6e-5],[35250,3.3e-5,4.5e-5],[35550,3.1e-5,4.6e-5],[35980,3.3e-5,4.5e-5]],
  [[41900,2.2e-5,3.3e-5],[42200,2e-5,3.1e-5],[42500,2.2e-5,3.4e-5],[42800,2.1e-5,3.1e-5],[43100,2.2e-5,3.3e-5],[43400,2e-5,3.2e-5],[43700,2.2e-5,3.3e-5],[43980,2.1e-5,3.2e-5]]
];
const zMomentumBands = [
  [[18250,3.4e-5,5e-5],[18500,3.1e-5,4.7e-5],[18750,3.3e-5,5e-5],[19000,3e-5,4.6e-5],[19250,3.4e-5,4.9e-5],[19500,3.1e-5,4.7e-5],[19750,3.3e-5,5e-5],[19980,3.2e-5,4.8e-5]],
  [[22100,2.6e-5,4e-5],[22350,2.4e-5,3.7e-5],[22600,2.6e-5,3.9e-5],[22850,2.3e-5,3.8e-5],[23100,2.6e-5,4e-5],[23350,2.4e-5,3.7e-5],[23600,2.5e-5,3.9e-5],[23980,2.4e-5,3.8e-5]],
  [[25950,1.3e-5,2.4e-5],[26150,1e-5,2.2e-5],[26350,1.2e-5,2.4e-5],[26600,0.95e-5,2.3e-5],[26850,1.15e-5,2.4e-5],[27100,1e-5,2.2e-5],[27350,1.2e-5,2.3e-5],[27600,0.95e-5,2.2e-5],[27800,1.1e-5,2.4e-5],[27980,1e-5,2.3e-5]],
  [[33750,2.5e-5,3.1e-5],[34050,2.3e-5,2.9e-5],[34350,2.5e-5,3.1e-5],[34650,2.4e-5,3e-5],[34950,2.3e-5,3.1e-5],[35250,2.5e-5,3e-5],[35550,2.4e-5,3.1e-5],[35980,2.4e-5,3e-5]],
  [[41900,1.6e-5,2.1e-5],[42200,1.5e-5,2e-5],[42500,1.6e-5,2.15e-5],[42800,1.5e-5,2e-5],[43100,1.6e-5,2.1e-5],[43400,1.5e-5,1.95e-5],[43700,1.6e-5,2.1e-5],[43980,1.55e-5,2e-5]]
];

const seriesNames = ["Continuity", "Sdr", "Tke", "X-momentum", "Y-momentum", "Z-momentum"];
const seriesColors = ["#e3141c", "#3fe3e3", "#e026e0", "#2ed42e", "#2430dc", "#f2be14"];
const seriesData = [continuity, sdr, tke, xMomentum, yMomentum, zMomentum];
const seriesBands = [continuityBands, [], [], xMomentumBands, yMomentumBands, zMomentumBands];

const xTickValues = [0, 5000, 10000, 15000, 20000, 25000, 30000, 35000, 40000, 45000, 50000, 55000, 60000];
const yTickValues = [1, 0.1, 0.01, 0.001, 1e-4, 1e-5];
const yTickLabels = ["1", "0.1", "0.01", "0.001", "1e-04", "1e-05"];

const svg = d3.select("#chart");
const x = d3.scaleLinear().domain([0, 62800]).range([124, 1190]);
const y = d3.scaleLog().domain([3.1e-6, 6.5]).range([449, 38]);

svg.append("rect").attr("width", 1220).attr("height", 523).attr("fill", "#fff");

// gridlines
const xMinor = d3.range(0, 62501, 1250);
const yMinor = [];
for (let e = -6; e <= 0; e++) {
  [1, 3, 6, 8].forEach((m) => {
    const v = +(m * Math.pow(10, e)).toPrecision(3);
    if (v >= 3.1e-6 && v <= 6.5) yMinor.push(v);
  });
}

const grid = svg.append("g");
grid.selectAll(".vg")
  .data(xMinor.slice(1))
  .enter()
  .append("line")
  .attr("x1", (d) => Math.round(x(d)) + 0.5).attr("x2", (d) => Math.round(x(d)) + 0.5)
  .attr("y1", 40).attr("y2", 449)
  .attr("stroke", "#dadada").attr("stroke-width", 1);
grid.selectAll(".hg")
  .data(yMinor)
  .enter()
  .append("line")
  .attr("x1", 124).attr("x2", 1190)
  .attr("y1", (d) => Math.round(y(d)) + 0.5).attr("y2", (d) => Math.round(y(d)) + 0.5)
  .attr("stroke", "#dadada").attr("stroke-width", 1);

// residual curves
const plot = svg.append("g");
const line = d3.line().x((d) => x(d[0])).y((d) => y(d[1]));
const band = d3.area().x((d) => x(d[0])).y0((d) => y(d[1])).y1((d) => y(d[2]));

seriesData.forEach((data, i) => {
  seriesBands[i].forEach((b) => {
    plot.append("path")
      .datum(b)
      .attr("d", band)
      .attr("fill", seriesColors[i])
      .attr("stroke", seriesColors[i])
      .attr("stroke-width", 1);
  });
  plot.append("path")
    .datum(data)
    .attr("d", line)
    .attr("fill", "none")
    .attr("stroke", seriesColors[i])
    .attr("stroke-width", 1.1)
    .attr("stroke-linejoin", "round");
});

// axes
const yAxis = svg.append("g")
  .attr("transform", "translate(124,0)")
  .call(
    d3.axisLeft(y)
      .tickValues(yMinor)
      .tickSize(5)
      .tickPadding(2)
      .tickFormat((d) => {
        const k = yTickValues.findIndex((v) => Math.abs(v - d) / v < 1e-6);
        return k >= 0 ? yTickLabels[k] : "";
      })
  );
yAxis.selectAll(".tick line")
  .attr("x2", (d) => (yTickValues.some((v) => Math.abs(v - d) / v < 1e-6) ? -5 : -3))
  .attr("stroke", "#555");
yAxis.select(".domain").attr("stroke", "#555").attr("d", "M0.5,38V449.5");

const xAxis = svg.append("g")
  .attr("transform", "translate(0,449)")
  .call(
    d3.axisBottom(x)
      .tickValues(xMinor)
      .tickSize(4)
      .tickPadding(5)
      .tickFormat((d) => (xTickValues.includes(d) ? d : ""))
  );
xAxis.selectAll(".tick line").attr("stroke", "#444");
xAxis.select(".domain").attr("stroke", "#888").attr("stroke-width", 2).attr("d", "M124,0H1190");

svg.selectAll(".tick text")
  .attr("font-family", "'DejaVu Sans', sans-serif")
  .attr("font-size", 15)
  .attr("fill", "#222");

// axis titles
svg.append("text")
  .attr("x", 657).attr("y", 508)
  .attr("text-anchor", "middle")
  .attr("font-family", "'DejaVu Sans', sans-serif")
  .attr("font-weight", 200)
  .attr("font-size", 26)
  .attr("letter-spacing", 2)
  .attr("fill", "#111")
  .text("ITERATION");
svg.append("text")
  .attr("transform", "translate(47,244) rotate(-90)")
  .attr("text-anchor", "middle")
  .attr("font-family", "'DejaVu Sans', sans-serif")
  .attr("font-weight", 200)
  .attr("font-size", 26)
  .attr("letter-spacing", 2)
  .attr("fill", "#111")
  .text("RESIDUALS");

// legend
const legend = svg.append("g");
legend.append("rect")
  .attr("x", 1036.5).attr("y", 47.5)
  .attr("width", 150).attr("height", 147)
  .attr("fill", "#fff").attr("stroke", "#555");
seriesNames.forEach((name, i) => {
  const ly = 60 + i * 24.2;
  legend.append("line")
    .attr("x1", 1043).attr("x2", 1068)
    .attr("y1", ly).attr("y2", ly)
    .attr("stroke", seriesColors[i]).attr("stroke-width", 1.2);
  legend.append("text")
    .attr("x", 1071).attr("y", ly)
    .attr("dy", "0.35em")
    .attr("font-family", "'DejaVu Sans', sans-serif")
    .attr("font-size", 15)
    .attr("fill", "#222")
    .text(name);
});

// outer frame
svg.append("rect")
  .attr("x", 9).attr("y", 7)
  .attr("width", 1204).attr("height", 540)
  .attr("fill", "none").attr("stroke", "#000").attr("stroke-width", 4);
</script>
</body>
</html>
